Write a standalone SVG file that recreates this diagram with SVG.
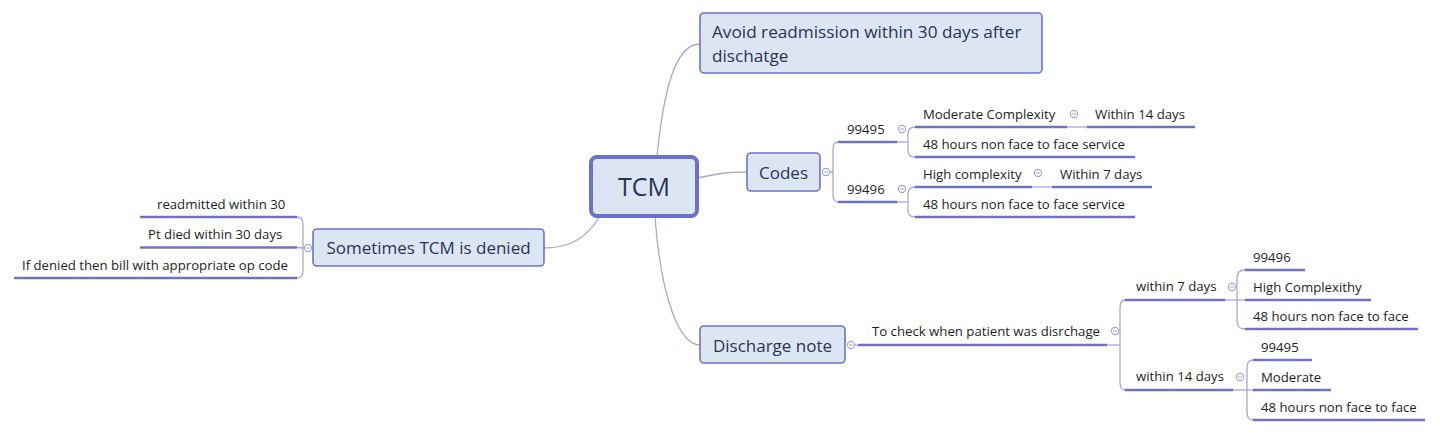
<svg xmlns="http://www.w3.org/2000/svg" width="1440" height="433" viewBox="0 0 1440 433">
<defs>
<style>
.bg{fill:#ffffff}
.box{fill:#dce6f3;stroke:#6c74c6;stroke-width:1.6}
.root{fill:#dce6f3;stroke:#6a72c9;stroke-width:4}
.tt{font-family:"Open Sans","Noto Sans",sans-serif;fill:#2a3354}
.st{font-family:"Open Sans","Noto Sans",sans-serif;font-size:13.2px;fill:#1e1e1e}
.ul{stroke:#6f73c3;stroke-width:2.6;fill:none;stroke-linecap:butt}
.cn{stroke:#a6a9d8;stroke-width:1.3;fill:none}
.cb{fill:#ffffff;stroke:#a3a6d2;stroke-width:1.1}
.cm{stroke:#a3a6d2;stroke-width:1}
</style>
<g id="collapse">
<circle class="cb" cx="0" cy="0" r="3.6"/>
<line class="cm" x1="-2" y1="0" x2="2" y2="0"/>
</g>
</defs>
<rect class="bg" x="0" y="0" width="1440" height="433"/>

<g id="connectors">
<path class="cn" d="M544,248 C572,248 588,236 600,216"/>
<path class="cn" d="M657,156 C663,96 674,44 700,44"/>
<path class="cn" d="M697,178 C716,174 726,172 747,172"/>
<path class="cn" d="M655,216 C661,300 680,345 700,345"/>
<path class="cn" d="M297,217 Q303,217 303,225 L303,270 Q303,278 297,278"/>
<path class="cn" d="M297,247.5 L304.5,248"/>
<path class="cn" d="M838,142 Q833,142 833,150 L833,194 Q833,202 838,202"/>
<path class="cn" d="M829.5,172 L833,172"/>
<path class="cn" d="M915,127 Q908,127 908,134 L908,150 Q908,157 915,157"/>
<path class="cn" d="M897,142 L908,142"/>
<path class="cn" d="M915,187 Q908,187 908,194 L908,210 Q908,217 915,217"/>
<path class="cn" d="M897,202 L908,202"/>
<path class="cn" d="M1067,127 L1087,127"/>
<path class="cn" d="M1032,187 L1052,187"/>
<path class="cn" d="M854.5,345 L858,345"/>
<path class="cn" d="M1125,300 Q1120,300 1120,308 L1120,382 Q1120,390 1125,390"/>
<path class="cn" d="M1107,345 L1120,345"/>
<path class="cn" d="M1245,270 Q1237,270 1237,278 L1237,321 Q1237,329 1245,329"/>
<path class="cn" d="M1225,300 L1245,300"/>
<path class="cn" d="M1253,360 Q1247,360 1247,368 L1247,412 Q1247,420 1253,420"/>
<path class="cn" d="M1233,390 L1253,390"/>
</g>

<g id="tcm">
<rect class="root" x="591" y="157" width="106" height="59" rx="6"/>
<text class="tt" x="644" y="196" font-size="25" text-anchor="middle">TCM</text>
</g>

<g id="avoid">
<rect class="box" x="700" y="13" width="342" height="60" rx="4"/>
<text class="tt" x="712" y="38" font-size="17.2">Avoid readmission within 30 days after</text>
<text class="tt" x="712" y="62" font-size="17.2">dischatge</text>
</g>

<g id="codes">
<rect class="box" x="747" y="153" width="73" height="38" rx="4"/>
<text class="tt" x="783.5" y="179" font-size="17" text-anchor="middle">Codes</text>
<use href="#collapse" x="826" y="172"/>
</g>

<g id="denied">
<rect class="box" x="313" y="229" width="231" height="37" rx="4"/>
<text class="tt" x="428.5" y="254" font-size="17" text-anchor="middle">Sometimes TCM is denied</text>
<use href="#collapse" x="308" y="248"/>
</g>

<g id="readmitted">
<text class="st" x="157" y="209">readmitted within 30</text>
<line class="ul" x1="140" y1="217" x2="297" y2="217"/>
</g>
<g id="ptdied">
<text class="st" x="148" y="239">Pt died within 30 days</text>
<line class="ul" x1="140" y1="247.5" x2="297" y2="247.5"/>
</g>
<g id="ifdenied">
<text class="st" x="22" y="270">If denied then bill with appropriate op code</text>
<line class="ul" x1="14" y1="278" x2="297" y2="278"/>
</g>

<g id="c99495">
<text class="st" x="847" y="134">99495</text>
<line class="ul" x1="838" y1="142" x2="897" y2="142"/>
<use href="#collapse" x="902" y="129"/>
</g>
<g id="c99496">
<text class="st" x="847" y="194">99496</text>
<line class="ul" x1="838" y1="202" x2="897" y2="202"/>
<use href="#collapse" x="902" y="189"/>
</g>
<g id="modcomplex">
<text class="st" x="923" y="119">Moderate Complexity</text>
<line class="ul" x1="915" y1="127" x2="1067" y2="127"/>
<use href="#collapse" x="1074" y="114"/>
</g>
<g id="within14a">
<text class="st" x="1095" y="119">Within 14 days</text>
<line class="ul" x1="1087" y1="127" x2="1195" y2="127"/>
</g>
<g id="h48a">
<text class="st" x="923" y="149">48 hours non face to face service</text>
<line class="ul" x1="915" y1="157" x2="1135" y2="157"/>
</g>
<g id="highcomplex">
<text class="st" x="923" y="179">High complexity</text>
<line class="ul" x1="915" y1="187" x2="1032" y2="187"/>
<use href="#collapse" x="1038" y="173"/>
</g>
<g id="within7a">
<text class="st" x="1060" y="179">Within 7 days</text>
<line class="ul" x1="1052" y1="187" x2="1152" y2="187"/>
</g>
<g id="h48b">
<text class="st" x="923" y="209">48 hours non face to face service</text>
<line class="ul" x1="915" y1="217" x2="1135" y2="217"/>
</g>

<g id="discharge">
<rect class="box" x="700" y="326" width="145" height="37" rx="4"/>
<text class="tt" x="772.5" y="352" font-size="17" text-anchor="middle">Discharge note</text>
<use href="#collapse" x="851" y="345"/>
</g>
<g id="tocheck">
<text class="st" x="872" y="336">To check when patient was disrchage</text>
<line class="ul" x1="858" y1="345" x2="1107" y2="345"/>
<use href="#collapse" x="1115" y="331"/>
</g>
<g id="within7b">
<text class="st" x="1136" y="291">within 7 days</text>
<line class="ul" x1="1125" y1="300" x2="1225" y2="300"/>
<use href="#collapse" x="1232" y="287"/>
</g>
<g id="d99496">
<text class="st" x="1253" y="262">99496</text>
<line class="ul" x1="1245" y1="270" x2="1305" y2="270"/>
</g>
<g id="highcomplexithy">
<text class="st" x="1253" y="292">High Complexithy</text>
<line class="ul" x1="1245" y1="300" x2="1371" y2="300"/>
</g>
<g id="h48c">
<text class="st" x="1253" y="321">48 hours non face to face</text>
<line class="ul" x1="1245" y1="329" x2="1418" y2="329"/>
</g>
<g id="within14b">
<text class="st" x="1136" y="381">within 14 days</text>
<line class="ul" x1="1125" y1="390" x2="1233" y2="390"/>
<use href="#collapse" x="1240" y="377"/>
</g>
<g id="d99495">
<text class="st" x="1261" y="352">99495</text>
<line class="ul" x1="1253" y1="360" x2="1312" y2="360"/>
</g>
<g id="moderate">
<text class="st" x="1261" y="382">Moderate</text>
<line class="ul" x1="1253" y1="390" x2="1331" y2="390"/>
</g>
<g id="h48d">
<text class="st" x="1261" y="412">48 hours non face to face</text>
<line class="ul" x1="1253" y1="420" x2="1425" y2="420"/>
</g>
</svg>
